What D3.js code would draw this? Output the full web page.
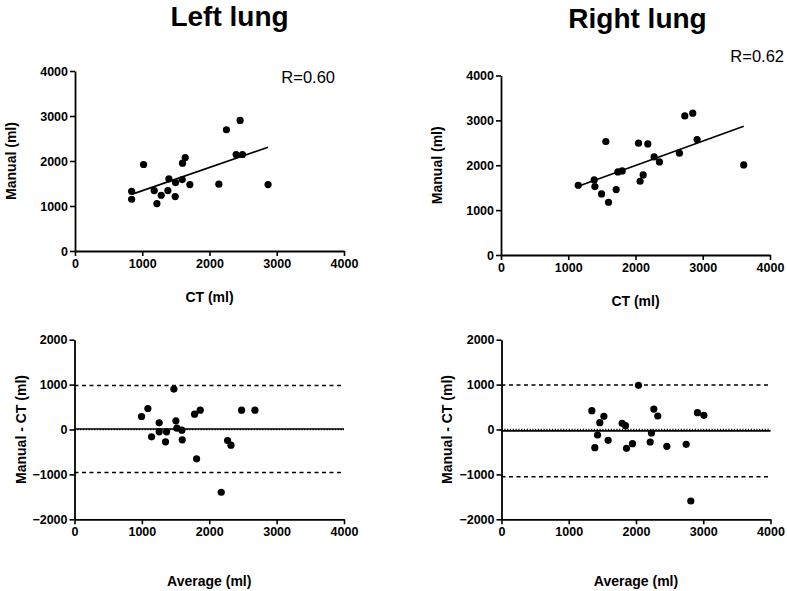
<!DOCTYPE html>
<html><head><meta charset="utf-8">
<script src="https://cdn.jsdelivr.net/npm/d3@7"></script>
<style>
body{margin:0;background:#fff;}
svg{display:block;font-family:"Liberation Sans",Arial,sans-serif;}
</style></head>
<body>
<svg id="chart" width="787" height="591"></svg>
<script>
// ---- data ----
const leftCT     = [842,842,1020,1178,1218,1282,1381,1396,1490,1495,1594,1599,1639,1708,2139,2252,2396,2455,2490,2871];
const leftManual = [1328,1150,1922,1343,1054,1239,1343,1603,1210,1521,1588,1952,2078,1477,1484,2694,2145,2902,2145,1477];
const rightCT     = [1149,1386,1396,1495,1559,1599,1713,1738,1802,2045,2069,2114,2183,2277,2356,2653,2733,2851,2916,3609];
const rightManual = [1554,1673,1524,1361,2528,1175,1457,1851,1874,2491,1643,1784,2476,2186,2074,2268,3100,3160,2572,2007];
const leftAvg  = [995,1089,1144,1257,1257,1351,1366,1475,1505,1520,1594,1599,1782,1812,1866,2178,2272,2322,2480,2678];
const leftDiff = [290,468,-164,149,-52,-275,-52,900,193,30,-15,-230,342,-654,431,-1398,-245,-349,431,431];
const rightAvg  = [1343,1388,1428,1462,1522,1586,1794,1844,1859,1948,2037,2211,2230,2265,2324,2458,2746,2815,2914,3009];
const rightDiff = [419,-404,-122,152,293,-241,137,85,-419,-315,983,-278,-78,456,301,-375,-330,-1592,375,315];
// Bland-Altman bias and 95% limits [bias, upper, lower]
const leftBA  = [10, 980, -955];
const rightBA = [-30, 990, -1050];
const rValues = ["R=0.60", "R=0.62"];
const titles = ["Left lung", "Right lung"];
const xTicks = [0,1000,2000,3000,4000];
const yTicksTop = [0,1000,2000,3000,4000];
const yTicksBottom = [-2000,-1000,0,1000,2000];

const svg = d3.select("#chart");

function axisStyle(g){
  g.selectAll("path.domain").attr("stroke","#000").attr("stroke-width",1.8);
  g.selectAll(".tick line").attr("stroke","#000").attr("stroke-width",1.6);
  g.selectAll(".tick text").attr("fill","#000").attr("font-size","12.5px").attr("font-weight","bold")
    .attr("font-family","'Liberation Sans',Arial,sans-serif");
}

function panel(cfg){
  const x = d3.scaleLinear().domain([0,4000]).range([cfg.x0,cfg.x1]);
  const y = d3.scaleLinear().domain(cfg.yDomain).range([cfg.yb,cfg.yt]);
  const g = svg.append("g");
  g.append("g").attr("transform",`translate(0,${cfg.yb})`)
    .call(d3.axisBottom(x).tickValues(xTicks).tickFormat(d3.format("d")).tickSizeInner(5).tickSizeOuter(0).tickPadding(3))
    .call(axisStyle);
  g.append("g").attr("transform",`translate(${cfg.x0},0)`)
    .call(d3.axisLeft(y).tickValues(cfg.yTicks).tickFormat(d3.format("d")).tickSizeInner(5).tickSizeOuter(0).tickPadding(2))
    .call(axisStyle);
  g.append("text").attr("x",(cfg.x0+cfg.x1)/2).attr("y",cfg.xLabY).attr("text-anchor","middle")
    .attr("font-size","14px").attr("font-weight","bold").text(cfg.xLabel);
  g.append("text").attr("transform",`translate(${cfg.yLabX},${(cfg.yb+cfg.yt)/2}) rotate(-90)`)
    .attr("text-anchor","middle").attr("font-size","14px").attr("font-weight","bold").text(cfg.yLabel);
  return {g,x,y};
}

function scatter(p, xs, ys){
  p.g.selectAll("circle.pt").data(xs.map((v,i)=>[v,ys[i]])).enter().append("circle")
    .attr("class","pt").attr("cx",d=>p.x(d[0])).attr("cy",d=>p.y(d[1])).attr("r",3.6).attr("fill","#000");
}

function regression(p, xs, ys){
  const mx=d3.mean(xs), my=d3.mean(ys);
  const b=d3.sum(xs.map((v,i)=>(v-mx)*(ys[i]-my)))/d3.sum(xs.map(v=>(v-mx)*(v-mx)));
  const a=my-b*mx;
  const ext=d3.extent(xs);
  p.g.append("line").attr("x1",p.x(ext[0])).attr("y1",p.y(a+b*ext[0]))
    .attr("x2",p.x(ext[1])).attr("y2",p.y(a+b*ext[1])).attr("stroke","#000").attr("stroke-width",1.6);
}

function blandAltman(p, ba){
  const xr=[0,4000];
  p.g.append("line").attr("x1",p.x(xr[0])).attr("x2",p.x(xr[1])).attr("y1",p.y(0)).attr("y2",p.y(0))
    .attr("stroke","#000").attr("stroke-width",1.5).attr("stroke-dasharray","1.2,1.6");
  p.g.append("line").attr("x1",p.x(xr[0])).attr("x2",p.x(xr[1])).attr("y1",p.y(ba[0])).attr("y2",p.y(ba[0]))
    .attr("stroke","#000").attr("stroke-width",1.6);
  [ba[1],ba[2]].forEach(v=>{
    p.g.append("line").attr("x1",p.x(xr[0])).attr("x2",p.x(xr[1])).attr("y1",p.y(v)).attr("y2",p.y(v))
      .attr("stroke","#000").attr("stroke-width",1.5).attr("stroke-dasharray","4,3.5");
  });
}

// titles
svg.append("text").attr("x",229.5).attr("y",25.5).attr("text-anchor","middle")
  .attr("font-size","28px").attr("font-weight","bold").text(titles[0]);
svg.append("text").attr("x",637.5).attr("y",27.5).attr("text-anchor","middle")
  .attr("font-size","28px").attr("font-weight","bold").text(titles[1]);

const tl = panel({x0:75,x1:344,yb:251,yt:71,yDomain:[0,4000],yTicks:yTicksTop,xLabel:"CT (ml)",xLabY:302,yLabel:"Manual (ml)",yLabX:16});
regression(tl,leftCT,leftManual);
scatter(tl,leftCT,leftManual);
svg.append("text").attr("x",335).attr("y",83).attr("text-anchor","end").attr("font-size","16.5px").text(rValues[0]);

const tr = panel({x0:501,x1:770,yb:255,yt:75.5,yDomain:[0,4000],yTicks:yTicksTop,xLabel:"CT (ml)",xLabY:306,yLabel:"Manual (ml)",yLabX:442});
regression(tr,rightCT,rightManual);
scatter(tr,rightCT,rightManual);
svg.append("text").attr("x",784).attr("y",62).attr("text-anchor","end").attr("font-size","16.5px").text(rValues[1]);

const bl = panel({x0:74.5,x1:344,yb:519.3,yt:339.7,yDomain:[-2000,2000],yTicks:yTicksBottom,xLabel:"Average (ml)",xLabY:586,yLabel:"Manual - CT (ml)",yLabX:26});
blandAltman(bl,leftBA);
scatter(bl,leftAvg,leftDiff);

const br = panel({x0:501.5,x1:770.5,yb:519.3,yt:339.7,yDomain:[-2000,2000],yTicks:yTicksBottom,xLabel:"Average (ml)",xLabY:586,yLabel:"Manual - CT (ml)",yLabX:452});
blandAltman(br,rightBA);
scatter(br,rightAvg,rightDiff);
</script>
</body></html>
